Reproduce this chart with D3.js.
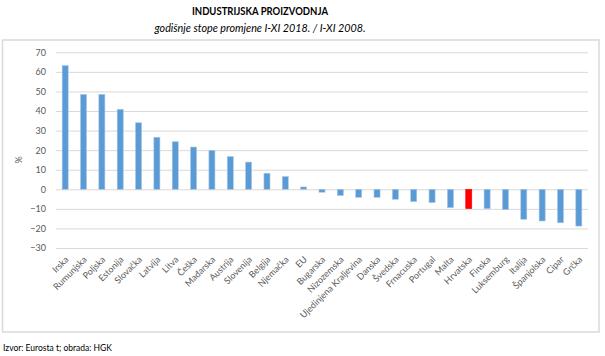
<!DOCTYPE html>
<html><head><meta charset="utf-8">
<script src="https://cdn.jsdelivr.net/npm/d3@7"></script>
<style>
body{margin:0;background:#fff;}
svg{display:block;font-family:Lato,"Liberation Sans",sans-serif;}
</style></head>
<body><svg id="c" width="605" height="356"></svg>
<script>
const categories = ["Irska","Rumunjska","Poljska","Estonija","Slovačka","Latvija","Litva","Češka","Mađarska","Austrija","Slovenija","Belgija","Njemačka","EU","Bugarska","Nizozemska","Ujedinjena Kraljevina","Danska","Švedska","Frnacuska","Portugal","Malta","Hrvatska","Finska","Luksemburg","Italija","Španjolska","Cipar","Grčka"];
const values = [63.2,48.5,48.5,40.9,34.0,26.6,24.3,21.6,19.9,16.7,13.9,8.2,6.5,1.2,-1.5,-3.2,-4.1,-4.1,-5.1,-6.3,-6.8,-9.4,-9.9,-9.9,-10.4,-15.3,-16.2,-17.1,-18.8];
const highlight = ["Hrvatska"];
const yTicks = [-30,-20,-10,0,10,20,30,40,50,60,70];
const title = "INDUSTRIJSKA PROIZVODNJA";
const subtitle = "godišnje stope promjene I-XI 2018. / I-XI 2008.";
const yLabel = "%";
const source = "Izvor: Eurosta t; obrada: HGK";

const svg = d3.select("#c");
const L = 56, R = 588, T = 52.3, B = 248;
const pi = 0.67;
const x = d3.scaleBand().domain(categories).range([L, R]).paddingInner(pi).paddingOuter(pi/2);
const y = d3.scaleLinear().domain([-30, 70]).range([B, T]);

// frame
svg.append("rect").attr("x",2.5).attr("y",40).attr("width",596.5).attr("height",292)
  .attr("fill","#fff").attr("stroke","#d9d9d9").attr("stroke-width",1.5);

// titles
svg.append("text").attr("x",260).attr("y",15).attr("text-anchor","middle")
  .attr("font-size",10.5).attr("font-weight","bold").attr("fill","#000")
  .attr("textLength",136).attr("lengthAdjust","spacingAndGlyphs").text(title);
svg.append("text").attr("x",260).attr("y",32).attr("text-anchor","middle")
  .attr("font-size",11).attr("font-style","italic").attr("fill","#000")
  .attr("textLength",211).attr("lengthAdjust","spacingAndGlyphs").text(subtitle);

// grid + y axis
const yAxis = d3.axisLeft(y).tickValues(yTicks).tickSize(-(R - L)).tickPadding(10);
const ga = svg.append("g").attr("transform",`translate(${L},0)`).call(yAxis);
ga.select(".domain").remove();
ga.selectAll(".tick line").attr("stroke","#d9d9d9").attr("stroke-width",1);
ga.selectAll(".tick text").attr("fill","#595959").attr("font-size",9).attr("font-family","Lato,sans-serif");

// bars
svg.append("g").selectAll("rect").data(categories).join("rect")
  .attr("x", d => x(d))
  .attr("width", x.bandwidth())
  .attr("y", (d,i) => y(Math.max(0, values[i])))
  .attr("height", (d,i) => Math.abs(y(values[i]) - y(0)))
  .attr("fill", d => highlight.includes(d) ? "#ff0000" : "#5b9bd5")
  .attr("stroke", d => highlight.includes(d) ? "#ff0000" : "#a9c8e8")
  .attr("stroke-width", 0.6);

// x labels
const xAxis = d3.axisBottom(x).tickSize(0).tickPadding(0);
const gx = svg.append("g").attr("transform",`translate(0,${B})`).call(xAxis);
gx.select(".domain").remove();
gx.selectAll(".tick text")
  .attr("fill","#595959").attr("font-size",9).attr("font-family","Lato,sans-serif")
  .attr("text-anchor","end")
  .attr("dy",null).attr("y",0)
  .attr("transform","translate(4,12) rotate(-45)");

// y label
svg.append("text").attr("transform","translate(22,160) rotate(-90)")
  .attr("text-anchor","middle").attr("font-size",9).attr("fill","#595959").text(yLabel);

// source
svg.append("text").attr("x",3).attr("y",351).attr("font-size",8.5).attr("fill","#000").text(source);
</script></body></html>
